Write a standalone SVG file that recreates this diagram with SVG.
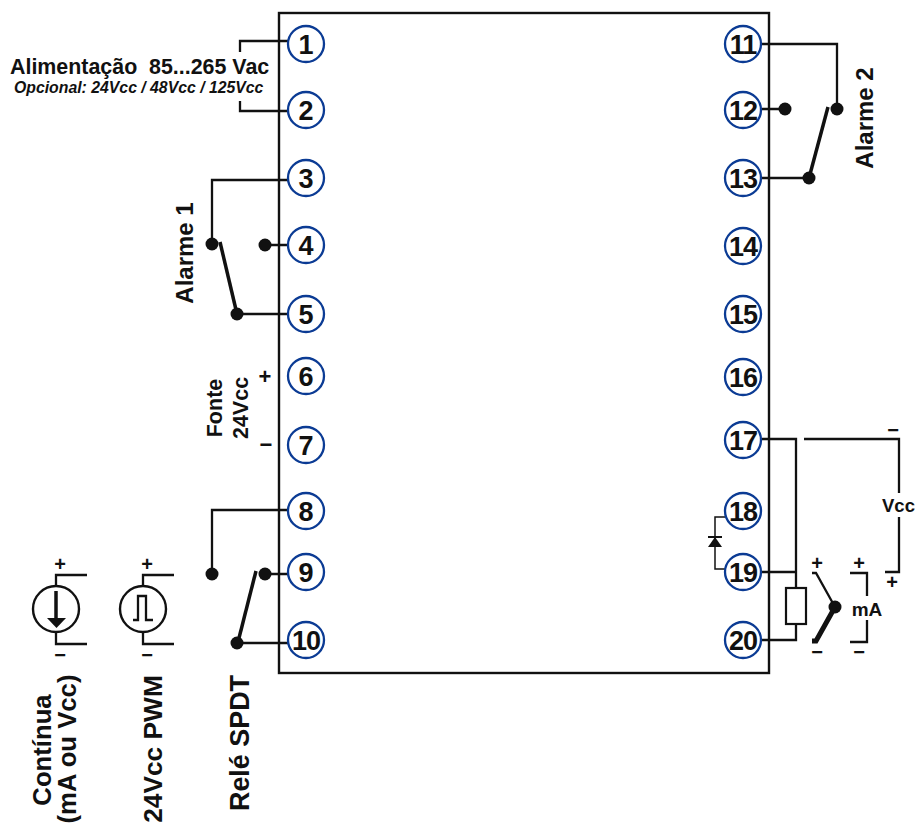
<svg xmlns="http://www.w3.org/2000/svg" width="915" height="825" viewBox="0 0 915 825">
<style>
.w{fill:none;stroke:#111;stroke-width:2.3}
.s{fill:none;stroke:#111;stroke-width:3.5}
.d{fill:#111}
.pin{fill:#fff;stroke:#0b3b94;stroke-width:2.3}
.n{font:bold 27px "Liberation Sans",Arial,sans-serif;fill:#111;text-anchor:middle}
.t{font-family:"Liberation Sans",Arial,sans-serif;font-weight:bold;fill:#111}
.m{text-anchor:middle}
</style>
<rect width="915" height="825" fill="#fff"/>
<g id="case"><rect x="279" y="13" width="490" height="660" fill="none" stroke="#111" stroke-width="2.4"/></g>
<g id="connectors">
<path class="w" d="M288 41H240V52M240 101V111H288"/>
<path class="w" d="M288 180H212V244M265 245H288M237 314H288"/>
<path class="s" d="M220 242L237 314"/>
<path class="w" d="M288 510H212V574M265 574H288M237 643H288"/>
<path class="s" d="M256 571L238 642"/>
<path class="w" d="M762 44H837V109M785 109H762M809 178H762"/>
<path class="s" d="M828 107L809 178"/>
<circle class="d" cx="212" cy="244" r="6.5"/><circle class="d" cx="265" cy="245" r="6.5"/><circle class="d" cx="237" cy="314" r="6.5"/>
<circle class="d" cx="212" cy="574" r="6.5"/><circle class="d" cx="265" cy="574" r="6.5"/><circle class="d" cx="237" cy="643" r="6.5"/>
<circle class="d" cx="837" cy="109" r="6.5"/><circle class="d" cx="785" cy="109" r="6.5"/><circle class="d" cx="809" cy="178" r="6.5"/>
<path class="w" d="M762 439H796V588M762 572H796M796 624V640H762"/>
<path class="w" d="M804 439H899V493M899 517V572H885"/>
<path class="w" d="M725 517H715V569H726" style="stroke-width:1.5"/>
</g>
<g id="resistor"><rect x="786" y="588" width="20" height="36" fill="#fff" stroke="#111" stroke-width="2.2"/></g>
<g id="diode"><path class="d" d="M708 547H722L715 537Z"/><path d="M708 537H722" stroke="#111" stroke-width="2"/></g>
<g id="switch-ma">
<path class="w" d="M812 573H816L835 607"/><circle class="d" cx="835" cy="607" r="6.5"/>
<path d="M835 607L816 641H812" fill="none" stroke="#111" stroke-width="5"/>
<path class="w" d="M850 573H867V596M867 620V642H850"/>
</g>
<g id="source-continua">
<circle cx="56" cy="609" r="23" fill="#fff" stroke="#111" stroke-width="2.4"/>
<path class="w" d="M87 575H56V586M56 632V644H87"/>
<path d="M56 591V620" stroke="#111" stroke-width="3.5"/><path class="d" d="M47 618H66L56.500 628Z"/>
</g>
<g id="source-pwm">
<circle cx="143" cy="609" r="23" fill="#fff" stroke="#111" stroke-width="2.4"/>
<path class="w" d="M174 575H143V586M143 632V644H174"/>
<path class="w" d="M133 620H138V596H146V620H153"/>
</g>
<g id="pin-1"><circle class="pin" cx="306" cy="44" r="18"/><text class="n" x="306" y="54">1</text></g>
<g id="pin-2"><circle class="pin" cx="306" cy="110" r="18"/><text class="n" x="306" y="120">2</text></g>
<g id="pin-3"><circle class="pin" cx="306" cy="178" r="18"/><text class="n" x="306" y="188">3</text></g>
<g id="pin-4"><circle class="pin" cx="306" cy="245" r="18"/><text class="n" x="306" y="255">4</text></g>
<g id="pin-5"><circle class="pin" cx="306" cy="314" r="18"/><text class="n" x="306" y="324">5</text></g>
<g id="pin-6"><circle class="pin" cx="306" cy="376" r="18"/><text class="n" x="306" y="386">6</text></g>
<g id="pin-7"><circle class="pin" cx="306" cy="445" r="18"/><text class="n" x="306" y="455">7</text></g>
<g id="pin-8"><circle class="pin" cx="306" cy="511" r="18"/><text class="n" x="306" y="521">8</text></g>
<g id="pin-9"><circle class="pin" cx="306" cy="572" r="18"/><text class="n" x="306" y="582">9</text></g>
<g id="pin-10"><circle class="pin" cx="306" cy="640" r="18"/><text class="n" x="306" y="650" letter-spacing="-1">10</text></g>
<g id="pin-11"><circle class="pin" cx="743" cy="44" r="18"/><text class="n" x="743" y="54" letter-spacing="-1">11</text></g>
<g id="pin-12"><circle class="pin" cx="743" cy="110" r="18"/><text class="n" x="743" y="120" letter-spacing="-1">12</text></g>
<g id="pin-13"><circle class="pin" cx="743" cy="178" r="18"/><text class="n" x="743" y="188" letter-spacing="-1">13</text></g>
<g id="pin-14"><circle class="pin" cx="743" cy="246" r="18"/><text class="n" x="743" y="256" letter-spacing="-1">14</text></g>
<g id="pin-15"><circle class="pin" cx="743" cy="314" r="18"/><text class="n" x="743" y="324" letter-spacing="-1">15</text></g>
<g id="pin-16"><circle class="pin" cx="743" cy="377" r="18"/><text class="n" x="743" y="387" letter-spacing="-1">16</text></g>
<g id="pin-17"><circle class="pin" cx="743" cy="440" r="18"/><text class="n" x="743" y="450" letter-spacing="-1">17</text></g>
<g id="pin-18"><circle class="pin" cx="743" cy="511" r="18"/><text class="n" x="743" y="521" letter-spacing="-1">18</text></g>
<g id="pin-19"><circle class="pin" cx="743" cy="572" r="18"/><text class="n" x="743" y="582" letter-spacing="-1">19</text></g>
<g id="pin-20"><circle class="pin" cx="743" cy="640" r="18"/><text class="n" x="743" y="650" letter-spacing="-1">20</text></g>
<g id="labels">
<text class="t" x="10" y="74" font-size="21.400" xml:space="preserve">Alimentação  85...265 Vac</text>
<text class="t" x="14" y="93" font-size="15.800" font-style="italic">Opcional: 24Vcc / 48Vcc / 125Vcc</text>
<text class="t m" transform="translate(193 253) rotate(-90)" font-size="24">Alarme 1</text>
<text class="t m" transform="translate(873 118) rotate(-90)" font-size="24">Alarme 2</text>
<text class="t m" transform="translate(222 408) rotate(-90)" font-size="21.500">Fonte</text>
<text class="t m" transform="translate(248 408) rotate(-90)" font-size="21.500">24Vcc</text>
<text class="t m" x="265" y="384" font-size="22">+</text>
<text class="t m" x="266" y="452" font-size="22">−</text>
<text class="t m" transform="translate(51 750) rotate(-90)" font-size="25.700">Contínua</text>
<text class="t m" transform="translate(76 749) rotate(-90)" font-size="25.700">(mA ou Vcc)</text>
<text class="t m" transform="translate(162 749) rotate(-90)" font-size="26.300">24Vcc PWM</text>
<text class="t m" transform="translate(249 743) rotate(-90)" font-size="26.900">Relé SPDT</text>
<text class="t m" x="60" y="571" font-size="20">+</text>
<text class="t m" x="147" y="571" font-size="20">+</text>
<text class="t m" x="60" y="662" font-size="20">−</text>
<text class="t m" x="147" y="662" font-size="20">−</text>
<text class="t" x="882" y="512" font-size="18.500">Vcc</text>
<text class="t m" x="893" y="437" font-size="20">−</text>
<text class="t m" x="892" y="589" font-size="20">+</text>
<text class="t m" x="867" y="616" font-size="19">mA</text>
<text class="t m" x="817" y="570" font-size="20">+</text>
<text class="t m" x="859" y="570" font-size="20">+</text>
<text class="t m" x="817" y="659" font-size="20">−</text>
<text class="t m" x="859" y="659" font-size="20">−</text>
</g>
</svg>
